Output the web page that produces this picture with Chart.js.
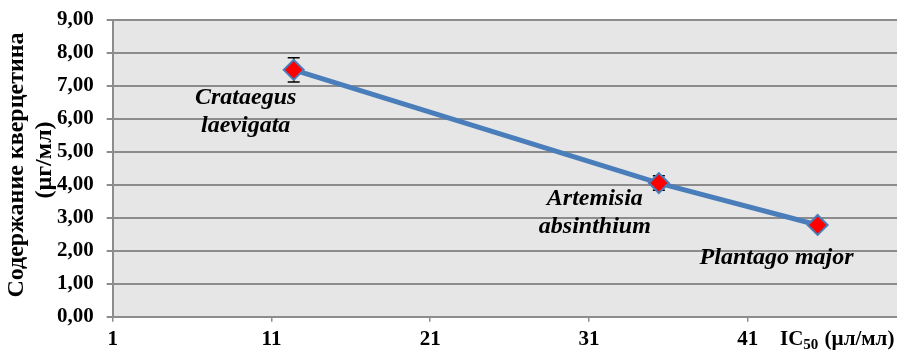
<!DOCTYPE html>
<html>
<head>
<meta charset="utf-8">
<script src="https://cdn.jsdelivr.net/npm/chart.js@4.4.1/dist/chart.umd.min.js"></script>
<style>
  html, body { margin: 0; padding: 0; background: #fff; overflow: hidden; }
  #wrap { width: 897px; height: 352px; position: relative; }
</style>
</head>
<body>
<div id="wrap"><canvas id="c"></canvas></div>
<script>
// данные — IC50 и содержание кверцетина
const species = [["Crataegus", "laevigata"], ["Artemisia", "absinthium"], ["Plantago major"]];
const ic50 = [12.4, 35.4, 45.4];
const quercetin = [7.48, 4.05, 2.78];
const errors = [0.37, 0.22, 0];
const xTicks = [1, 11, 21, 31, 41];
const yTicks = [0, 1, 2, 3, 4, 5, 6, 7, 8, 9];

// стили
const FONT = "'Liberation Serif', 'Times New Roman', serif";
const C = { line: "#4a7ebb", marker: "#ff0000", grid: "#8c8c8c", plot: "#e6e6e6", text: "#000" };
const labelOffsets = [[-48, 28], [-64, 16], [-41, 33]];   // px от точки до центра подписи
const LINE_H = 28;

const plotBg = {
  id: "plotBg",
  beforeDraw(chart) {
    const { ctx, chartArea: a } = chart;
    ctx.save();
    ctx.fillStyle = C.plot;
    ctx.fillRect(a.left, a.top, a.right - a.left, a.bottom - a.top);
    ctx.restore();
  },
};

const errorBars = {
  id: "errorBars",
  beforeDatasetsDraw(chart) {
    const { ctx, scales: { x, y } } = chart;
    ctx.save();
    ctx.strokeStyle = "#000";
    ctx.lineWidth = 1.5;
    ic50.forEach((v, i) => {
      if (!errors[i]) return;
      const px = x.getPixelForValue(v);
      const y1 = y.getPixelForValue(quercetin[i] + errors[i]);
      const y2 = y.getPixelForValue(quercetin[i] - errors[i]);
      ctx.beginPath();
      ctx.moveTo(px, y1); ctx.lineTo(px, y2);
      ctx.moveTo(px - 6, y1); ctx.lineTo(px + 6, y1);
      ctx.moveTo(px - 6, y2); ctx.lineTo(px + 6, y2);
      ctx.stroke();
    });
    ctx.restore();
  },
};

const texts = {
  id: "texts",
  afterDraw(chart) {
    const { ctx, scales: { x, y } } = chart;
    ctx.save();
    ctx.fillStyle = C.text;
    // подписи видов
    ctx.font = `italic bold 24px ${FONT}`;
    ctx.textAlign = "center";
    ctx.textBaseline = "middle";
    species.forEach((lines, i) => {
      const px = x.getPixelForValue(ic50[i]) + labelOffsets[i][0];
      const py = y.getPixelForValue(quercetin[i]) + labelOffsets[i][1];
      lines.forEach((t, j) => ctx.fillText(t, px, py + j * LINE_H));
    });
    // заголовок оси Y (две строки, вторая заходит на подписи делений)
    ctx.font = `bold 24px ${FONT}`;
    ctx.translate(17, 165);
    ctx.rotate(-Math.PI / 2);
    ctx.fillText("Содержание кверцетина", 0, 0);
    ctx.fillText("(µг/мл)", 5, 28);
    ctx.setTransform(1, 0, 0, 1, 0, 0);
    // заголовок оси X: IC50 (µл/мл)
    ctx.textAlign = "left";
    ctx.textBaseline = "alphabetic";
    let tx = 780, ty = 345;
    ctx.font = `bold 21px ${FONT}`;
    ctx.fillText("IC", tx, ty); tx += ctx.measureText("IC").width;
    ctx.font = `bold 15px ${FONT}`;
    ctx.fillText("50", tx, ty + 4); tx += ctx.measureText("50").width + 1;
    ctx.font = `bold 21px ${FONT}`;
    ctx.fillText(" (µл/мл)", tx, ty);
    ctx.restore();
  },
};

new Chart(document.getElementById("c"), {
  type: "line",
  data: {
    datasets: [{
      data: ic50.map((v, i) => ({ x: v, y: quercetin[i] })),
      borderColor: C.line, borderWidth: 5,
      pointStyle: "rectRot", pointRadius: 10, pointHoverRadius: 10,
      pointBackgroundColor: C.marker, pointBorderColor: C.line, pointBorderWidth: 2,
      tension: 0,
    }],
  },
  options: {
    responsive: true, maintainAspectRatio: false, animation: false,
    layout: { autoPadding: false, padding: { top: 19.7, left: 0, right: 0, bottom: 0 } },
    plugins: { legend: { display: false }, tooltip: { enabled: false } },
    scales: {
      x: {
        type: "linear", min: 1, max: 50.4,
        afterBuildTicks: (s) => { s.ticks = xTicks.map((v) => ({ value: v })); },
        afterFit: (s) => { s.height = 35.3; s.paddingRight = 0; s.paddingLeft = 0; },
        ticks: { color: C.text, font: { family: FONT, size: 21, weight: "bold" }, padding: 5, maxRotation: 0 },
        grid: { drawOnChartArea: false, color: C.grid, lineWidth: 1.5, tickLength: 5 },
        border: { color: C.grid, width: 2 },
      },
      y: {
        min: 0, max: 9,
        afterBuildTicks: (s) => { s.ticks = yTicks.map((v) => ({ value: v })); },
        afterFit: (s) => { s.width = 112.7; s.paddingTop = 0; s.paddingBottom = 0; },
        ticks: { color: C.text, font: { family: FONT, size: 21, weight: "bold" }, padding: 13,
          callback: (v) => v.toFixed(2).replace(".", ",") },
        grid: { color: C.grid, lineWidth: 2, tickLength: 6 },
        border: { color: C.grid, width: 2 },
      },
    },
  },
  plugins: [plotBg, errorBars, texts],
});
</script>
</body>
</html>
